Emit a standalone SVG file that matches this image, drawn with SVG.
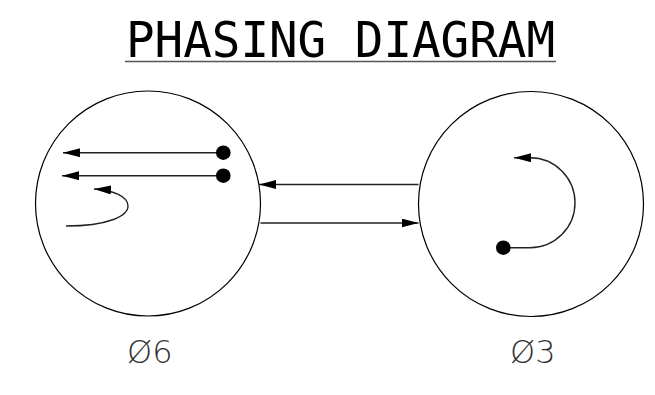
<svg xmlns="http://www.w3.org/2000/svg" width="655" height="395" viewBox="0 0 655 395">
<style>
.ring{fill:none;stroke:#000;stroke-width:1.2}
.ln{fill:none;stroke:#222;stroke-width:1.4}
.dot{fill:#000}
.title{font-family:"DejaVu Sans Mono",monospace;font-size:50px;fill:#000}
.lbl{font-family:"DejaVu Sans","Liberation Sans",sans-serif;font-weight:200;font-size:32px;fill:#333}
</style>
<defs>
<marker id="ah" viewBox="0 0 17 9" refX="17" refY="4.5" markerWidth="17" markerHeight="9" orient="auto" markerUnits="userSpaceOnUse">
<path d="M0,0 L17,4.5 L0,9 z" fill="#000"/>
</marker>
</defs>
<rect width="655" height="395" fill="#fff"/>
<g id="title">
<text class="title" x="126" y="56.5" textLength="429" lengthAdjust="spacingAndGlyphs">PHASING DIAGRAM</text>
<line x1="125" y1="61.5" x2="556" y2="61.5" stroke="#555" stroke-width="1.5"/>
</g>
<g id="phase6">
<circle class="ring" cx="148" cy="203.5" r="112.5"/>
<line class="ln" x1="223" y1="152.7" x2="63" y2="152.7" marker-end="url(#ah)"/>
<circle class="dot" cx="223.3" cy="152.7" r="7.3"/>
<line class="ln" x1="223" y1="175.7" x2="62" y2="175.7" marker-end="url(#ah)"/>
<circle class="dot" cx="223.3" cy="175.7" r="7.3"/>
<path class="ln" d="M66,226 C108,226 128,216 128,206 C128,196 112,190 94,189" marker-end="url(#ah)"/>
<text class="lbl" x="127" y="363">Ø6</text>
</g>
<g id="phase3">
<circle class="ring" cx="531" cy="204" r="112.5"/>
<path class="ln" d="M503,247.7 L530,247.7 A45,45 0 0 0 530,157.7 L514,157.7" marker-end="url(#ah)"/>
<circle class="dot" cx="503.3" cy="247.7" r="7.3"/>
<text class="lbl" x="510" y="363">Ø3</text>
</g>
<g id="connectors">
<line class="ln" x1="418.5" y1="184.5" x2="259" y2="184.5" marker-end="url(#ah)"/>
<line class="ln" x1="260.5" y1="223" x2="418.5" y2="223" marker-end="url(#ah)"/>
</g>
</svg>
